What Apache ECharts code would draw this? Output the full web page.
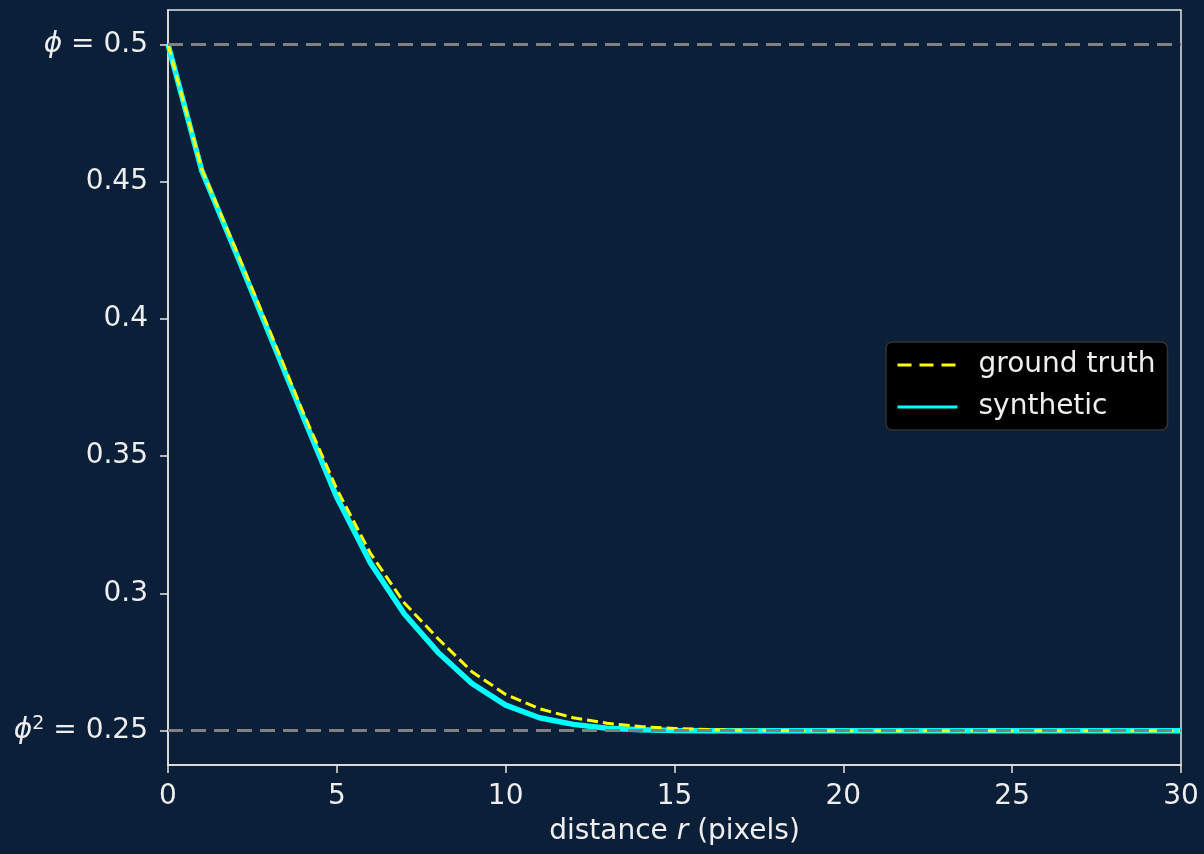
<!DOCTYPE html>
<html>
<head>
<meta charset="utf-8">
<script src="https://cdn.jsdelivr.net/npm/echarts@6/dist/echarts.min.js"></script>
<style>
html,body{margin:0;padding:0;background:#0b1f39;}
#c{width:1204px;height:854px;}
</style>
</head>
<body>
<div id="c"></div>
<script>
const r = [0,1,2,3,4,5,6,7,8,9,10,11,12,13,14,15,16,17,18,19,20,21,22,23,24,25,26,27,28,29,30];
const groundTruth = [0.5,0.4545,0.4255,0.396,0.366,0.338,0.3145,0.2965,0.2835,0.2715,0.2632,0.258,0.2547,0.2527,0.2515,0.2508,0.2504,0.2502,0.2501,0.25,0.25,0.25,0.25,0.25,0.25,0.25,0.25,0.25,0.25,0.25,0.25];
const synthetic = [0.5,0.454,0.4245,0.3945,0.3645,0.335,0.311,0.2925,0.2785,0.2672,0.2593,0.2547,0.2523,0.2509,0.2503,0.2501,0.25,0.25,0.25,0.25,0.25,0.25,0.25,0.25,0.25,0.25,0.25,0.25,0.25,0.25,0.25];
const yTicks = [0.25,0.3,0.35,0.4,0.45,0.5];
const xTicks = [0,5,10,15,20,25,30];
const refLines = [0.5,0.25];

const FONT = 'DejaVu Sans';
const FS = 28;
const TXT = '#eeeeee';
const chart = echarts.init(document.getElementById('c'), null, {renderer:'canvas'});
chart.setOption({
  backgroundColor:'#0b1f39',
  animation:false,
  grid:{left:168,right:23,top:10,bottom:89,show:true,borderColor:'#e6e6e6',borderWidth:1.5,backgroundColor:'transparent'},
  legend:{
    orient:'vertical', left:886, top:342,
    backgroundColor:'#000000', borderColor:'#333333', borderWidth:1.5, borderRadius:6,
    padding:[8,12,8,10], itemGap:12, itemWidth:60, itemHeight:14,
    itemStyle:{opacity:0},
    textStyle:{color:TXT,fontFamily:FONT,fontSize:FS,lineHeight:30,padding:[0,0,0,16]},
    data:[
      {name:'ground truth', lineStyle:{color:'#ffff00',width:3,type:[14,8]}},
      {name:'synthetic', lineStyle:{color:'#00ffff',width:3,type:'solid'}}
    ]
  },
  xAxis:{
    type:'value', min:0, max:30, interval:5,
    axisLine:{show:true,onZero:false,lineStyle:{color:'#e6e6e6',width:1.5}},
    axisTick:{show:true,length:8,lineStyle:{color:'#e6e6e6',width:1.5}},
    splitLine:{show:false},
    axisLabel:{color:TXT,fontFamily:FONT,fontSize:FS,margin:18,
      customValues:xTicks, formatter:v=>String(v)},
    name:'{n|distance }{i|r}{n| (pixels)}', nameLocation:'middle', nameGap:53,
    nameTextStyle:{color:TXT,fontFamily:FONT,fontSize:FS,
      rich:{n:{color:TXT,fontFamily:FONT,fontSize:FS},i:{color:TXT,fontFamily:FONT,fontSize:FS,fontStyle:'italic'}}}
  },
  yAxis:{
    type:'value', min:0.2375, max:0.5125,
    axisLine:{show:true,onZero:false,lineStyle:{color:'#e6e6e6',width:1.5}},
    axisTick:{show:true,length:8,customValues:yTicks,lineStyle:{color:'#e6e6e6',width:1.5}},
    splitLine:{show:false},
    axisLabel:{color:TXT,fontFamily:FONT,fontSize:FS,margin:20,
      customValues:yTicks,
      formatter:function(v){
        if(Math.abs(v-0.5)<1e-6) return '{i|ϕ}{n| = 0.5}';
        if(Math.abs(v-0.25)<1e-6) return '{i|ϕ}{s|2}{n| = 0.25}';
        return '{n|'+(Math.round(v*100)/100)+'}';
      },
      rich:{
        n:{color:TXT,fontFamily:FONT,fontSize:FS},
        i:{color:TXT,fontFamily:FONT,fontSize:FS,fontStyle:'italic'},
        s:{color:TXT,fontFamily:FONT,fontSize:19,verticalAlign:'top',padding:[0,0,14,0]}
      }
    }
  },
  series:[
    {
      name:'reference', type:'line', data:[], silent:true,
      markLine:{silent:true,symbol:['none','none'],label:{show:false},
        lineStyle:{color:'#808080',type:[15,8],width:3},
        data:refLines.map(v=>({yAxis:v}))},
      z:1
    },
    {
      name:'synthetic', type:'line', data:r.map((x,i)=>[x,synthetic[i]]),
      showSymbol:false, symbol:'none', color:'#00ffff',
      lineStyle:{color:'#00ffff',width:5.5}, z:3
    },
    {
      name:'ground truth', type:'line', data:r.map((x,i)=>[x,groundTruth[i]]),
      showSymbol:false, symbol:'none', color:'#ffff00',
      lineStyle:{color:'#ffff00',width:3,type:[11,5]}, z:4
    }
  ]
});
</script>
</body>
</html>
